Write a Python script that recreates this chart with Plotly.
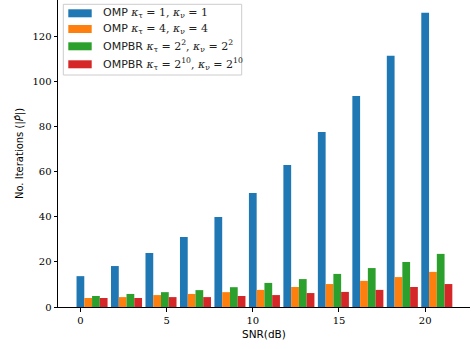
import plotly.graph_objects as go

snr = [0, 2, 4, 6, 8, 10, 12, 14, 16, 18, 20]
omp_1 = [13.7, 18.2, 24.0, 31.1, 40.0, 50.7, 63.1, 77.8, 93.8, 111.6, 130.7]
omp_4 = [4.0, 4.4, 5.3, 5.8, 6.6, 7.6, 8.9, 10.2, 11.6, 13.3, 15.6]
ompbr_2 = [4.9, 5.8, 6.6, 7.5, 8.8, 10.7, 12.4, 14.7, 17.3, 20.0, 23.6]
ompbr_10 = [4.0, 4.0, 4.4, 4.4, 4.9, 5.3, 6.2, 6.7, 7.6, 8.9, 10.2]

M = '<span style="font-family:DejaVu Serif">%s</span>'
names = [
    "OMP " + M % "<i>κ</i><sub>τ</sub> = 1, <i>κ</i><sub>ν</sub> = 1",
    "OMP " + M % "<i>κ</i><sub>τ</sub> = 4, <i>κ</i><sub>ν</sub> = 4",
    "OMPBR " + M % "<i>κ</i><sub>τ</sub> = 2<sup>2</sup>, <i>κ</i><sub>ν</sub> = 2<sup>2</sup>",
    "OMPBR " + M % "<i>κ</i><sub>τ</sub> = 2<sup>10</sup>, <i>κ</i><sub>ν</sub> = 2<sup>10</sup>",
]
colors = ["#1f77b4", "#ff7f0e", "#2ca02c", "#d62728"]
series = [omp_1, omp_4, ompbr_2, ompbr_10]

# plot area in pixels: x 58..470, y 0..307
L, R, T, B = 58, 470, 0, 307
def px(x):
    return (x - L) / (R - L)
def py(y):
    return (B - y) / (B - T)

w = 0.45
fig = go.Figure()
for i, (nm, col, vals) in enumerate(zip(names, colors, series)):
    fig.add_trace(go.Bar(
        x=snr, y=vals, name=nm, marker=dict(color=col, line=dict(width=0)),
        width=w, offset=-w / 2 + i * w, showlegend=False,
    ))

shapes = [dict(type="rect", xref="paper", yref="paper",
               x0=px(63.3), x1=px(241.7), y0=py(75), y1=py(4.3),
               line=dict(color="#cccccc", width=1), fillcolor="rgba(255,255,255,0.8)",
               layer="above")]
annotations = []
centers = [13.3, 29.0, 46.3, 64.3]
for nm, col, cy in zip(names, colors, centers):
    shapes.append(dict(type="rect", xref="paper", yref="paper",
                       x0=px(68.3), x1=px(91.7), y0=py(cy + 4), y1=py(cy - 4),
                       line=dict(width=0), fillcolor=col, layer="above"))
    annotations.append(dict(xref="paper", yref="paper", x=px(100.5), y=py(cy),
                            xanchor="left", yanchor="middle", showarrow=False,
                            text=nm, font=dict(family="DejaVu Sans", size=11, color="#222")))

fig.update_layout(
    width=471, height=349,
    margin=dict(l=L, r=471 - R, t=T, b=349 - B),
    plot_bgcolor="white", paper_bgcolor="white",
    barmode="overlay",
    shapes=shapes, annotations=annotations,
    font=dict(family="DejaVu Sans", color="black"),
)
fig.update_xaxes(
    range=[-1.3, 22.6], tickvals=[0, 5, 10, 15, 20],
    showline=True, linecolor="black", linewidth=1,
    ticks="outside", ticklen=3.5, tickwidth=0.8, tickcolor="black",
    showgrid=False, zeroline=False,
    tickfont=dict(family="DejaVu Serif", size=10),
    title=dict(text="SNR(dB)", font=dict(family="DejaVu Sans", size=10.5), standoff=6),
)
fig.update_yaxes(
    range=[0, 136.4], tickvals=[0, 20, 40, 60, 80, 100, 120],
    showline=True, linecolor="black", linewidth=1,
    ticks="outside", ticklen=3.5, tickwidth=0.8, tickcolor="black",
    showgrid=False, zeroline=False,
    tickfont=dict(family="DejaVu Serif", size=10),
    title=dict(text="No. Iterations (|<i>P̂</i>|)", font=dict(family="DejaVu Sans", size=10), standoff=6),
)

fig.write_html("out.html")
